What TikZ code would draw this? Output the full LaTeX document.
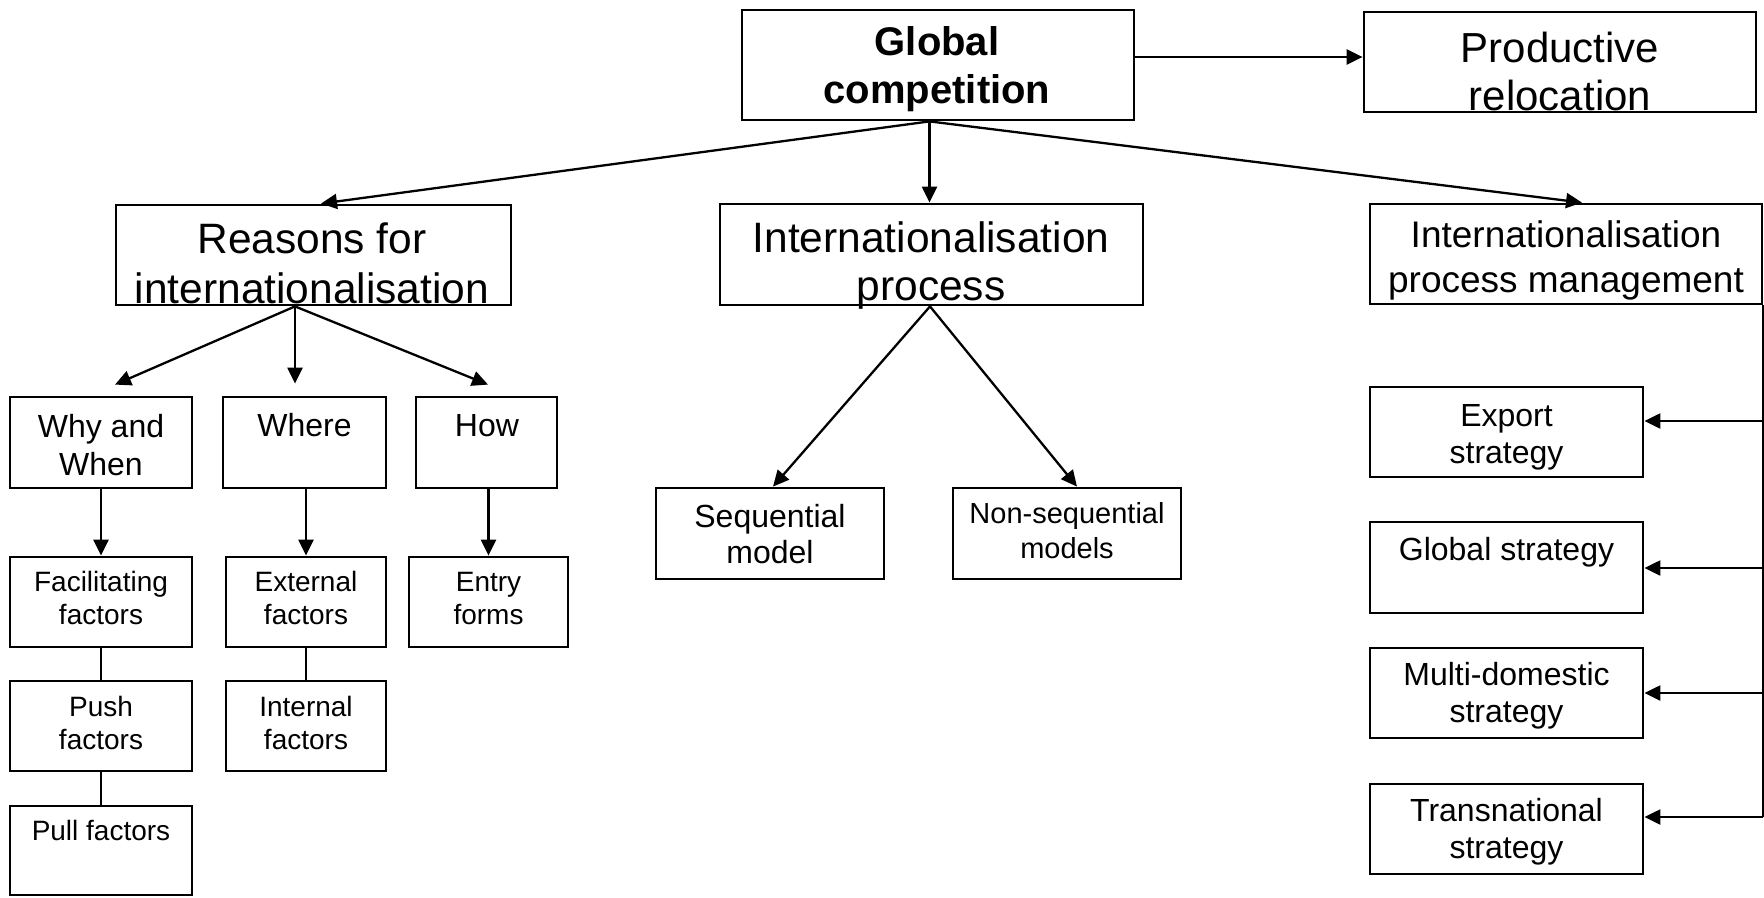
\documentclass[tikz,border=0pt]{standalone}
\usepackage{fontspec}
\setmainfont{Liberation Sans}
\usetikzlibrary{arrows.meta}

% box from corner (x1,y1) to (x2,y2), name #1
\newcommand\mkbox[5]{%
  \node[box, minimum width={(#4)-(#2)}, minimum height={(#5)-(#3)}]
    (#1) at ({((#2)+(#4))/2},{((#3)+(#5))/2}) {};}
\newcommand\fs[2]{\fontsize{#1}{#2}\selectfont}

\begin{document}
\begin{tikzpicture}[x=1pt, y=-1pt,
  box/.style={draw, line width=2.8pt, inner sep=0pt},
  arr/.style={line width=2.3pt, -{Triangle[length=16pt,width=15pt]}},
  lnk/.style={line width=2.3pt},
  txt/.style={inner sep=0pt, align=center, anchor=base},
]
\useasboundingbox (0,0) rectangle (1764,897);

% --- boxes ---
\mkbox{glob}{742}{10}{1134}{120}
\mkbox{prod}{1364}{12}{1756}{112}
\mkbox{reas}{116}{205}{511}{305}
\mkbox{proc}{720}{204}{1143}{305}
\mkbox{ipm}{1370}{204}{1762}{304}
\mkbox{why}{10}{397}{192}{488}
\mkbox{where}{223}{397}{386}{488}
\mkbox{how}{416}{397}{557}{488}
\mkbox{facil}{10}{557}{192}{647}
\mkbox{ext}{226}{557}{386}{647}
\mkbox{entry}{409}{557}{568}{647}
\mkbox{push}{10}{681}{192}{771}
\mkbox{intern}{226}{681}{386}{771}
\mkbox{pull}{10}{806}{192}{895}
\mkbox{seq}{656}{488}{884}{579}
\mkbox{nonseq}{953}{488}{1181}{579}
\mkbox{export}{1370}{387}{1643}{477}
\mkbox{gstrat}{1370}{522}{1643}{613}
\mkbox{multi}{1370}{648}{1643}{738}
\mkbox{trans}{1370}{784}{1643}{874}

% --- texts (placed on the baseline of their last line) ---
\node[txt, font=\fs{40}{48}\bfseries] (t-glob) at (937,103) {Global\\competition};
\node[txt, font=\fs{42}{48}] (t-prod) at (1560,110) {Productive\\relocation};
\node[txt, font=\fs{42.5}{50}] (t-reas) at (312,303.5) {Reasons for\\internationalisation};
\node[txt, font=\fs{42.5}{48}] (t-proc) at (931,300) {Internationalisation\\process};
\node[txt, font=\fs{37}{45}] (t-ipm) at (1566,292) {Internationalisation\\process management};
\node[txt, font=\fs{32}{38}] (t-why) at (101,475) {Why and\\When};
\node[txt, font=\fs{32}{38}] (t-where) at (304.5,436) {Where};
\node[txt, font=\fs{32}{38}] (t-how) at (487,436) {How};
\node[txt, font=\fs{28}{33}] (t-facil) at (101,624.5) {Facilitating\\factors};
\node[txt, font=\fs{28}{33}] (t-ext) at (306,624.5) {External\\factors};
\node[txt, font=\fs{28}{33}] (t-entry) at (488.5,624.5) {Entry\\forms};
\node[txt, font=\fs{28}{33}] (t-push) at (101,749) {Push\\factors};
\node[txt, font=\fs{28}{33}] (t-intern) at (306,749) {Internal\\factors};
\node[txt, font=\fs{28}{33}] (t-pull) at (101,840.5) {Pull factors};
\node[txt, font=\fs{32}{36}] (t-seq) at (770,563) {Sequential\\model};
\node[txt, font=\fs{29}{35}] (t-nonseq) at (1067,558) {Non-sequential\\models};
\node[txt, font=\fs{32}{37}] (t-export) at (1506.5,463) {Export\\strategy};
\node[txt, font=\fs{32}{37}] (t-gstrat) at (1506.5,560) {Global strategy};
\node[txt, font=\fs{32}{37}] (t-multi) at (1506.5,722.5) {Multi-domestic\\strategy};
\node[txt, font=\fs{32}{37}] (t-trans) at (1506.5,858.5) {Transnational\\strategy};

% --- connectors from Global competition ---
\coordinate (gr) at ([yshift=8pt]glob.east);
\draw[arr] (gr) -- (gr -| prod.west);
\coordinate (gs) at ([xshift=-8.5pt]glob.south);
\draw[arr] (gs) -- ([xshift=7.5pt]reas.north);
\draw[arr] (gs) -- (gs |- proc.north);
\draw[arr] (gs) -- ([xshift=16pt]ipm.north);

% --- reasons branch ---
\coordinate (rs) at ([xshift=-18.5pt]reas.south);
\draw[arr] (rs) -- ([shift={(14pt,11pt)}]why.north);
\draw[arr] (rs) -- ([yshift=12pt]rs |- where.north);
\draw[arr] (rs) -- ([shift={(1.5pt,11pt)}]how.north);
\draw[arr] (why.south) -- (facil.north);
\draw[arr] (ext.north |- where.south) -- (ext.north);
\draw[arr] (entry.north |- how.south) -- (entry.north);
\draw[lnk] (facil.south) -- (push.north);
\draw[lnk] (push.south) -- (pull.north);
\draw[lnk] (ext.south) -- (intern.north);

% --- process branch ---
\coordinate (ps) at ([xshift=-1.5pt]proc.south);
\draw[arr] (ps) -- ([xshift=3pt]seq.north);
\draw[arr] (ps) -- ([xshift=10pt]nonseq.north);

% --- management branch ---
\coordinate (ae) at ([yshift=11pt]export.east);
\coordinate (ag) at ([yshift=-0.5pt]gstrat.east);
\coordinate (am) at (multi.east);
\coordinate (at) at ([yshift=12pt]trans.east);
\draw[lnk] (ipm.south east) -- (at -| ipm.south east);
\draw[arr] (ae -| ipm.south east) -- (ae);
\draw[arr] (ag -| ipm.south east) -- (ag);
\draw[arr] (am -| ipm.south east) -- (am);
\draw[arr] (at -| ipm.south east) -- (at);
\end{tikzpicture}
\end{document}
